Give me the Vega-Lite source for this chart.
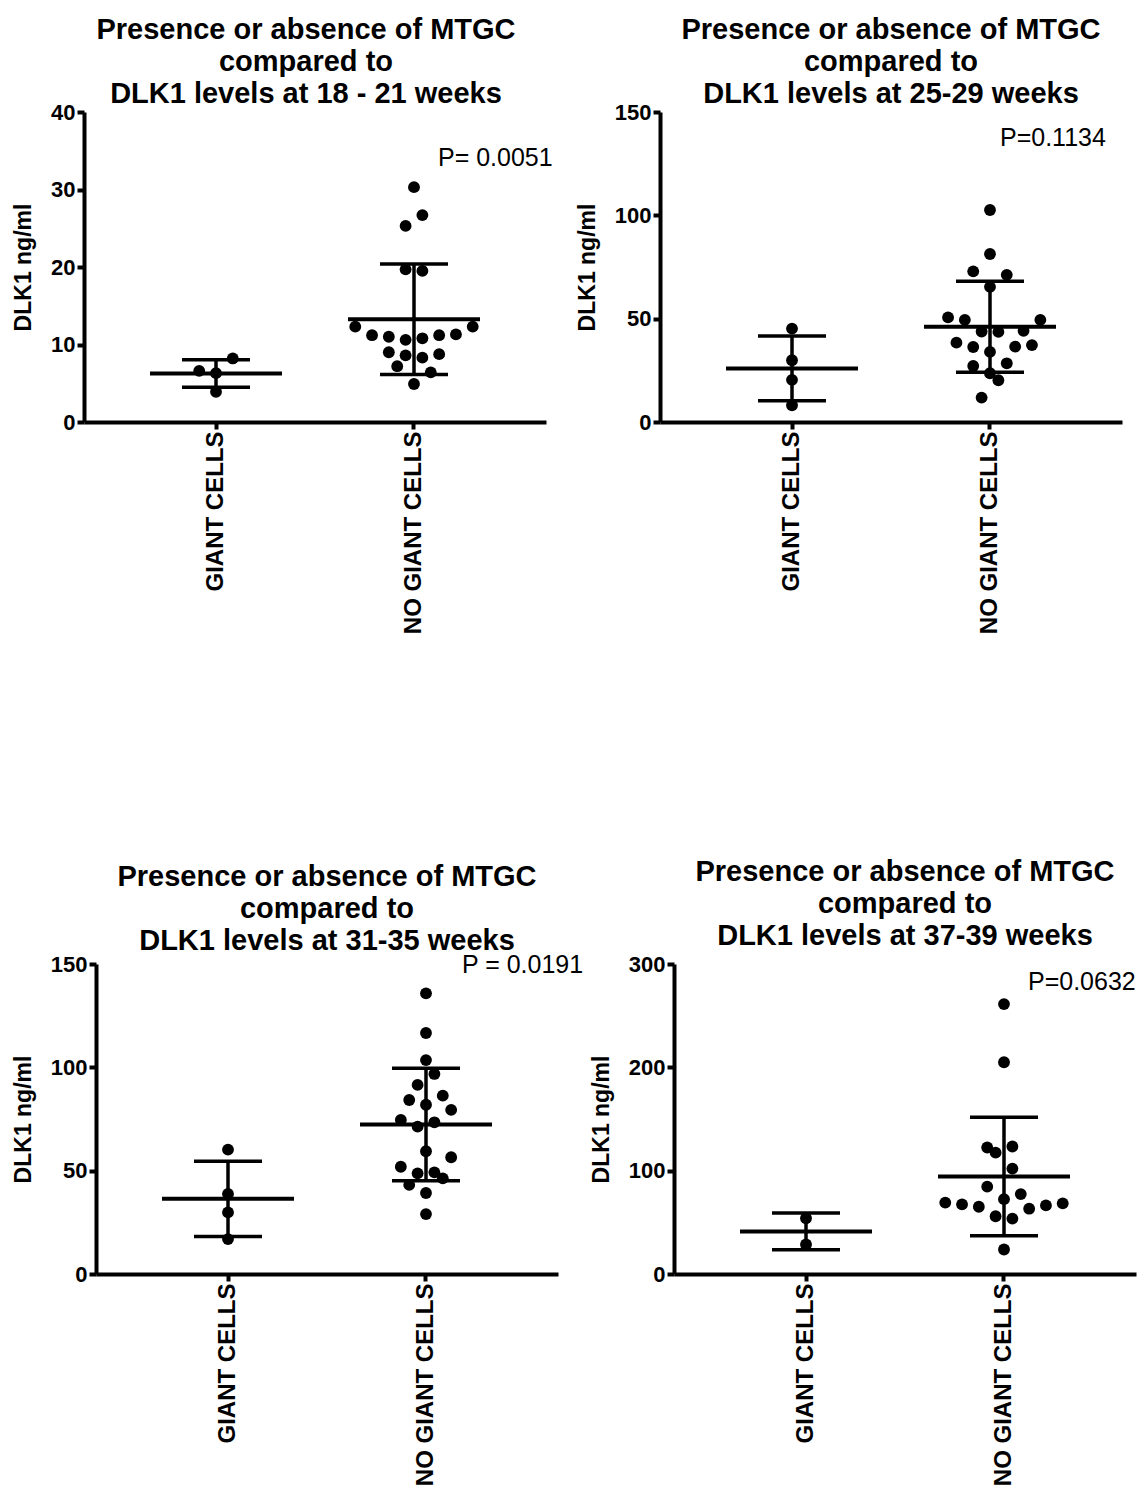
{
  "$schema": "https://vega.github.io/schema/vega-lite/v6.json",
  "background": "white",
  "padding": {"left": 12, "top": 16, "right": 5, "bottom": 5},
  "config": {
    "font": "Liberation Sans",
    "view": {"stroke": null},
    "axis": {"domainColor": "#000", "tickColor": "#000", "labelColor": "#000", "titleColor": "#000", "domainWidth": 4, "tickWidth": 4, "tickSize": 7, "grid": false, "labelFontWeight": "bold", "titleFontWeight": "bold"},
    "axisX": {"labelAngle": -90, "labelFontSize": 24, "labelPadding": 2, "labelLimit": 400},
    "axisY": {"labelFontSize": 22, "labelPadding": 2, "titleFontSize": 23, "titlePadding": 15},
    "title": {"fontSize": 29, "fontWeight": "bold", "lineHeight": 32, "color": "#000", "anchor": "middle", "frame": "group"}
  },
  "datasets": {
    "pts": [
      {"panel": "p1", "group": "GIANT CELLS", "value": 8.2, "slot": 1},
      {"panel": "p1", "group": "GIANT CELLS", "value": 6.6, "slot": -1},
      {"panel": "p1", "group": "GIANT CELLS", "value": 6.3, "slot": 0},
      {"panel": "p1", "group": "GIANT CELLS", "value": 3.9, "slot": 0},
      {"panel": "p1", "group": "NO GIANT CELLS", "value": 30.3, "slot": 0},
      {"panel": "p1", "group": "NO GIANT CELLS", "value": 26.7, "slot": 0.5},
      {"panel": "p1", "group": "NO GIANT CELLS", "value": 25.3, "slot": -0.5},
      {"panel": "p1", "group": "NO GIANT CELLS", "value": 19.7, "slot": -0.5},
      {"panel": "p1", "group": "NO GIANT CELLS", "value": 19.5, "slot": 0.5},
      {"panel": "p1", "group": "NO GIANT CELLS", "value": 12.3, "slot": -3.5},
      {"panel": "p1", "group": "NO GIANT CELLS", "value": 12.3, "slot": 3.5},
      {"panel": "p1", "group": "NO GIANT CELLS", "value": 11.2, "slot": -2.5},
      {"panel": "p1", "group": "NO GIANT CELLS", "value": 11.3, "slot": 2.5},
      {"panel": "p1", "group": "NO GIANT CELLS", "value": 11.0, "slot": -1.5},
      {"panel": "p1", "group": "NO GIANT CELLS", "value": 11.2, "slot": 1.5},
      {"panel": "p1", "group": "NO GIANT CELLS", "value": 10.6, "slot": -0.5},
      {"panel": "p1", "group": "NO GIANT CELLS", "value": 10.8, "slot": 0.5},
      {"panel": "p1", "group": "NO GIANT CELLS", "value": 9.0, "slot": -1.5},
      {"panel": "p1", "group": "NO GIANT CELLS", "value": 8.6, "slot": -0.5},
      {"panel": "p1", "group": "NO GIANT CELLS", "value": 8.3, "slot": 0.5},
      {"panel": "p1", "group": "NO GIANT CELLS", "value": 8.75, "slot": 1.5},
      {"panel": "p1", "group": "NO GIANT CELLS", "value": 7.2, "slot": -1},
      {"panel": "p1", "group": "NO GIANT CELLS", "value": 6.4, "slot": 1},
      {"panel": "p1", "group": "NO GIANT CELLS", "value": 4.9, "slot": 0},

      {"panel": "p2", "group": "GIANT CELLS", "value": 45.2, "slot": 0},
      {"panel": "p2", "group": "GIANT CELLS", "value": 29.9, "slot": 0},
      {"panel": "p2", "group": "GIANT CELLS", "value": 20.4, "slot": 0},
      {"panel": "p2", "group": "GIANT CELLS", "value": 8.1, "slot": 0},
      {"panel": "p2", "group": "NO GIANT CELLS", "value": 102.6, "slot": 0},
      {"panel": "p2", "group": "NO GIANT CELLS", "value": 81.3, "slot": 0},
      {"panel": "p2", "group": "NO GIANT CELLS", "value": 72.9, "slot": -1},
      {"panel": "p2", "group": "NO GIANT CELLS", "value": 71.2, "slot": 1},
      {"panel": "p2", "group": "NO GIANT CELLS", "value": 65.4, "slot": 0},
      {"panel": "p2", "group": "NO GIANT CELLS", "value": 50.6, "slot": -2.5},
      {"panel": "p2", "group": "NO GIANT CELLS", "value": 49.4, "slot": -1.5},
      {"panel": "p2", "group": "NO GIANT CELLS", "value": 49.4, "slot": 3},
      {"panel": "p2", "group": "NO GIANT CELLS", "value": 43.8, "slot": -0.5},
      {"panel": "p2", "group": "NO GIANT CELLS", "value": 43.6, "slot": 0.5},
      {"panel": "p2", "group": "NO GIANT CELLS", "value": 44.1, "slot": 2},
      {"panel": "p2", "group": "NO GIANT CELLS", "value": 38.4, "slot": -2},
      {"panel": "p2", "group": "NO GIANT CELLS", "value": 36.3, "slot": -1},
      {"panel": "p2", "group": "NO GIANT CELLS", "value": 33.9, "slot": 0},
      {"panel": "p2", "group": "NO GIANT CELLS", "value": 36.5, "slot": 1.5},
      {"panel": "p2", "group": "NO GIANT CELLS", "value": 37.2, "slot": 2.5},
      {"panel": "p2", "group": "NO GIANT CELLS", "value": 27.1, "slot": -1},
      {"panel": "p2", "group": "NO GIANT CELLS", "value": 28.4, "slot": 1},
      {"panel": "p2", "group": "NO GIANT CELLS", "value": 23.6, "slot": 0},
      {"panel": "p2", "group": "NO GIANT CELLS", "value": 20.2, "slot": 0.5},
      {"panel": "p2", "group": "NO GIANT CELLS", "value": 11.8, "slot": -0.5},

      {"panel": "p3", "group": "GIANT CELLS", "value": 60.2, "slot": 0},
      {"panel": "p3", "group": "GIANT CELLS", "value": 38.7, "slot": 0},
      {"panel": "p3", "group": "GIANT CELLS", "value": 29.8, "slot": 0},
      {"panel": "p3", "group": "GIANT CELLS", "value": 16.9, "slot": 0},
      {"panel": "p3", "group": "NO GIANT CELLS", "value": 135.8, "slot": 0},
      {"panel": "p3", "group": "NO GIANT CELLS", "value": 116.6, "slot": 0},
      {"panel": "p3", "group": "NO GIANT CELLS", "value": 103.5, "slot": 0},
      {"panel": "p3", "group": "NO GIANT CELLS", "value": 96.8, "slot": 0.5},
      {"panel": "p3", "group": "NO GIANT CELLS", "value": 91.5, "slot": -0.5},
      {"panel": "p3", "group": "NO GIANT CELLS", "value": 84.2, "slot": -1},
      {"panel": "p3", "group": "NO GIANT CELLS", "value": 81.9, "slot": 0},
      {"panel": "p3", "group": "NO GIANT CELLS", "value": 86.3, "slot": 1},
      {"panel": "p3", "group": "NO GIANT CELLS", "value": 79.4, "slot": 1.5},
      {"panel": "p3", "group": "NO GIANT CELLS", "value": 74.5, "slot": -1.5},
      {"panel": "p3", "group": "NO GIANT CELLS", "value": 71.3, "slot": -0.5},
      {"panel": "p3", "group": "NO GIANT CELLS", "value": 73.4, "slot": 0.5},
      {"panel": "p3", "group": "NO GIANT CELLS", "value": 59.4, "slot": 0},
      {"panel": "p3", "group": "NO GIANT CELLS", "value": 56.5, "slot": 1.5},
      {"panel": "p3", "group": "NO GIANT CELLS", "value": 51.9, "slot": -1.5},
      {"panel": "p3", "group": "NO GIANT CELLS", "value": 48.7, "slot": -0.5},
      {"panel": "p3", "group": "NO GIANT CELLS", "value": 49.2, "slot": 0.5},
      {"panel": "p3", "group": "NO GIANT CELLS", "value": 46.3, "slot": 1},
      {"panel": "p3", "group": "NO GIANT CELLS", "value": 43.1, "slot": -1},
      {"panel": "p3", "group": "NO GIANT CELLS", "value": 39.2, "slot": 0},
      {"panel": "p3", "group": "NO GIANT CELLS", "value": 29.0, "slot": 0},

      {"panel": "p4", "group": "GIANT CELLS", "value": 53.9, "slot": 0},
      {"panel": "p4", "group": "GIANT CELLS", "value": 28.6, "slot": 0},
      {"panel": "p4", "group": "NO GIANT CELLS", "value": 261.2, "slot": 0},
      {"panel": "p4", "group": "NO GIANT CELLS", "value": 204.9, "slot": 0},
      {"panel": "p4", "group": "NO GIANT CELLS", "value": 122.4, "slot": -1},
      {"panel": "p4", "group": "NO GIANT CELLS", "value": 117.4, "slot": -0.5},
      {"panel": "p4", "group": "NO GIANT CELLS", "value": 123.4, "slot": 0.5},
      {"panel": "p4", "group": "NO GIANT CELLS", "value": 102.0, "slot": 0.5},
      {"panel": "p4", "group": "NO GIANT CELLS", "value": 84.5, "slot": -1},
      {"panel": "p4", "group": "NO GIANT CELLS", "value": 77.3, "slot": 1},
      {"panel": "p4", "group": "NO GIANT CELLS", "value": 72.4, "slot": 0},
      {"panel": "p4", "group": "NO GIANT CELLS", "value": 69.1, "slot": -3.5},
      {"panel": "p4", "group": "NO GIANT CELLS", "value": 67.4, "slot": -2.5},
      {"panel": "p4", "group": "NO GIANT CELLS", "value": 65.1, "slot": -1.5},
      {"panel": "p4", "group": "NO GIANT CELLS", "value": 68.4, "slot": 3.5},
      {"panel": "p4", "group": "NO GIANT CELLS", "value": 66.4, "slot": 2.5},
      {"panel": "p4", "group": "NO GIANT CELLS", "value": 63.2, "slot": 1.5},
      {"panel": "p4", "group": "NO GIANT CELLS", "value": 55.9, "slot": -0.5},
      {"panel": "p4", "group": "NO GIANT CELLS", "value": 53.6, "slot": 0.5},
      {"panel": "p4", "group": "NO GIANT CELLS", "value": 23.7, "slot": 0}
    ],
    "pvals": [
      {"panel": "p1", "group": "NO GIANT CELLS", "value": 33.0, "label": "P= 0.0051"},
      {"panel": "p2", "group": "NO GIANT CELLS", "value": 133.5, "label": "P=0.1134"},
      {"panel": "p3", "group": "NO GIANT CELLS", "value": 145.6, "label": "P = 0.0191"},
      {"panel": "p4", "group": "NO GIANT CELLS", "value": 274.6, "label": "P=0.0632"}
    ]
  },
  "spacing": 224,
  "vconcat": [
    {
      "hconcat": [
        {
          "width": 462, "height": 310,
          "title": {"text": ["Presence or absence of MTGC", "compared to", "DLK1 levels at 18 - 21  weeks"], "offset": -8, "dx": -9},
          "encoding": {
            "x": {"field": "group", "type": "nominal", "scale": {"domain": ["GIANT CELLS", "NO GIANT CELLS"], "paddingInner": 0, "paddingOuter": 0.1667}, "axis": {"title": null}},
            "y": {"field": "value", "type": "quantitative", "scale": {"domain": [0, 40], "nice": false}, "axis": {"values": [0, 10, 20, 30, 40], "title": "DLK1 ng/ml"}}
          },
          "layer": [
            {"data": {"name": "pts"}, "transform": [{"filter": "datum.panel === 'p1'"}], "mark": {"type": "errorbar", "extent": "stdev", "ticks": true, "size": 68, "thickness": 3.5, "color": "#000", "opacity": 1}},
            {"data": {"name": "pts"}, "transform": [{"filter": "datum.panel === 'p1'"}, {"aggregate": [{"op": "mean", "field": "value", "as": "value"}], "groupby": ["group"]}], "mark": {"type": "tick", "size": 132, "thickness": 4, "color": "#000", "opacity": 1}},
            {"data": {"name": "pts"}, "transform": [{"filter": "datum.panel === 'p1'"}], "mark": {"type": "point", "filled": true, "size": 140, "color": "#000", "opacity": 1}, "encoding": {"xOffset": {"field": "slot", "type": "quantitative", "scale": {"domain": [-5.9, 5.9]}}}},
            {"data": {"name": "pvals"}, "transform": [{"filter": "datum.panel === 'p1'"}], "mark": {"type": "text", "fontSize": 25, "fontWeight": "normal", "align": "left", "baseline": "alphabetic", "dx": 24, "fill": "#000", "opacity": 1}, "encoding": {"text": {"field": "label", "type": "nominal"}}}
          ]
        },
        {
          "width": 462, "height": 310,
          "title": {"text": ["Presence or absence of MTGC", "compared to", "DLK1 levels  at 25-29  weeks"], "offset": -8},
          "encoding": {
            "x": {"field": "group", "type": "nominal", "scale": {"domain": ["GIANT CELLS", "NO GIANT CELLS"], "paddingInner": 0, "paddingOuter": 0.1667}, "axis": {"title": null}},
            "y": {"field": "value", "type": "quantitative", "scale": {"domain": [0, 150], "nice": false}, "axis": {"values": [0, 50, 100, 150], "title": "DLK1 ng/ml"}}
          },
          "layer": [
            {"data": {"name": "pts"}, "transform": [{"filter": "datum.panel === 'p2'"}], "mark": {"type": "errorbar", "extent": "stdev", "ticks": true, "size": 68, "thickness": 3.5, "color": "#000", "opacity": 1}},
            {"data": {"name": "pts"}, "transform": [{"filter": "datum.panel === 'p2'"}, {"aggregate": [{"op": "mean", "field": "value", "as": "value"}], "groupby": ["group"]}], "mark": {"type": "tick", "size": 132, "thickness": 4, "color": "#000", "opacity": 1}},
            {"data": {"name": "pts"}, "transform": [{"filter": "datum.panel === 'p2'"}], "mark": {"type": "point", "filled": true, "size": 140, "color": "#000", "opacity": 1}, "encoding": {"xOffset": {"field": "slot", "type": "quantitative", "scale": {"domain": [-5.7, 5.7]}}}},
            {"data": {"name": "pvals"}, "transform": [{"filter": "datum.panel === 'p2'"}], "mark": {"type": "text", "fontSize": 25, "fontWeight": "normal", "align": "left", "baseline": "alphabetic", "dx": 10, "fill": "#000", "opacity": 1}, "encoding": {"text": {"field": "label", "type": "nominal"}}}
          ]
        }
      ],
      "spacing": 114,
      "bounds": "flush"
    },
    {
      "hconcat": [
        {
          "width": 12, "height": 310,
          "data": {"values": []},
          "mark": {"type": "point", "opacity": 0},
          "encoding": {}
        },
        {
          "hconcat": [
            {
              "width": 462, "height": 310,
              "title": {"text": ["Presence or absence of MTGC", "compared to", "DLK1 levels at 31-35  weeks"], "offset": -3},
              "encoding": {
                "x": {"field": "group", "type": "nominal", "scale": {"domain": ["GIANT CELLS", "NO GIANT CELLS"], "paddingInner": 0, "paddingOuter": 0.1667}, "axis": {"title": null}},
                "y": {"field": "value", "type": "quantitative", "scale": {"domain": [0, 150], "nice": false}, "axis": {"values": [0, 50, 100, 150], "title": "DLK1 ng/ml"}}
              },
              "layer": [
                {"data": {"name": "pts"}, "transform": [{"filter": "datum.panel === 'p3'"}], "mark": {"type": "errorbar", "extent": "stdev", "ticks": true, "size": 68, "thickness": 3.5, "color": "#000", "opacity": 1}},
                {"data": {"name": "pts"}, "transform": [{"filter": "datum.panel === 'p3'"}, {"aggregate": [{"op": "mean", "field": "value", "as": "value"}], "groupby": ["group"]}], "mark": {"type": "tick", "size": 132, "thickness": 4, "color": "#000", "opacity": 1}},
                {"data": {"name": "pts"}, "transform": [{"filter": "datum.panel === 'p3'"}], "mark": {"type": "point", "filled": true, "size": 140, "color": "#000", "opacity": 1}, "encoding": {"xOffset": {"field": "slot", "type": "quantitative", "scale": {"domain": [-5.6, 5.6]}}}},
                {"data": {"name": "pvals"}, "transform": [{"filter": "datum.panel === 'p3'"}], "mark": {"type": "text", "fontSize": 25, "fontWeight": "normal", "align": "left", "baseline": "alphabetic", "dx": 36, "fill": "#000", "opacity": 1}, "encoding": {"text": {"field": "label", "type": "nominal"}}}
              ]
            },
            {
              "width": 462, "height": 310,
              "title": {"text": ["Presence or absence of MTGC", "compared to", "DLK1 levels  at 37-39  weeks"], "offset": 2},
              "encoding": {
                "x": {"field": "group", "type": "nominal", "scale": {"domain": ["GIANT CELLS", "NO GIANT CELLS"], "paddingInner": 0, "paddingOuter": 0.1667}, "axis": {"title": null}},
                "y": {"field": "value", "type": "quantitative", "scale": {"domain": [0, 300], "nice": false}, "axis": {"values": [0, 100, 200, 300], "title": "DLK1 ng/ml"}}
              },
              "layer": [
                {"data": {"name": "pts"}, "transform": [{"filter": "datum.panel === 'p4'"}], "mark": {"type": "errorbar", "extent": "stdev", "ticks": true, "size": 68, "thickness": 3.5, "color": "#000", "opacity": 1}},
                {"data": {"name": "pts"}, "transform": [{"filter": "datum.panel === 'p4'"}, {"aggregate": [{"op": "mean", "field": "value", "as": "value"}], "groupby": ["group"]}], "mark": {"type": "tick", "size": 132, "thickness": 4, "color": "#000", "opacity": 1}},
                {"data": {"name": "pts"}, "transform": [{"filter": "datum.panel === 'p4'"}], "mark": {"type": "point", "filled": true, "size": 140, "color": "#000", "opacity": 1}, "encoding": {"xOffset": {"field": "slot", "type": "quantitative", "scale": {"domain": [-5.9, 5.9]}}}},
                {"data": {"name": "pvals"}, "transform": [{"filter": "datum.panel === 'p4'"}], "mark": {"type": "text", "fontSize": 25, "fontWeight": "normal", "align": "left", "baseline": "alphabetic", "dx": 24, "fill": "#000", "opacity": 1}, "encoding": {"text": {"field": "label", "type": "nominal"}}}
              ]
            }
          ],
          "spacing": 116,
          "bounds": "flush"
        }
      ],
      "spacing": 0,
      "bounds": "flush"
    }
  ]
}
